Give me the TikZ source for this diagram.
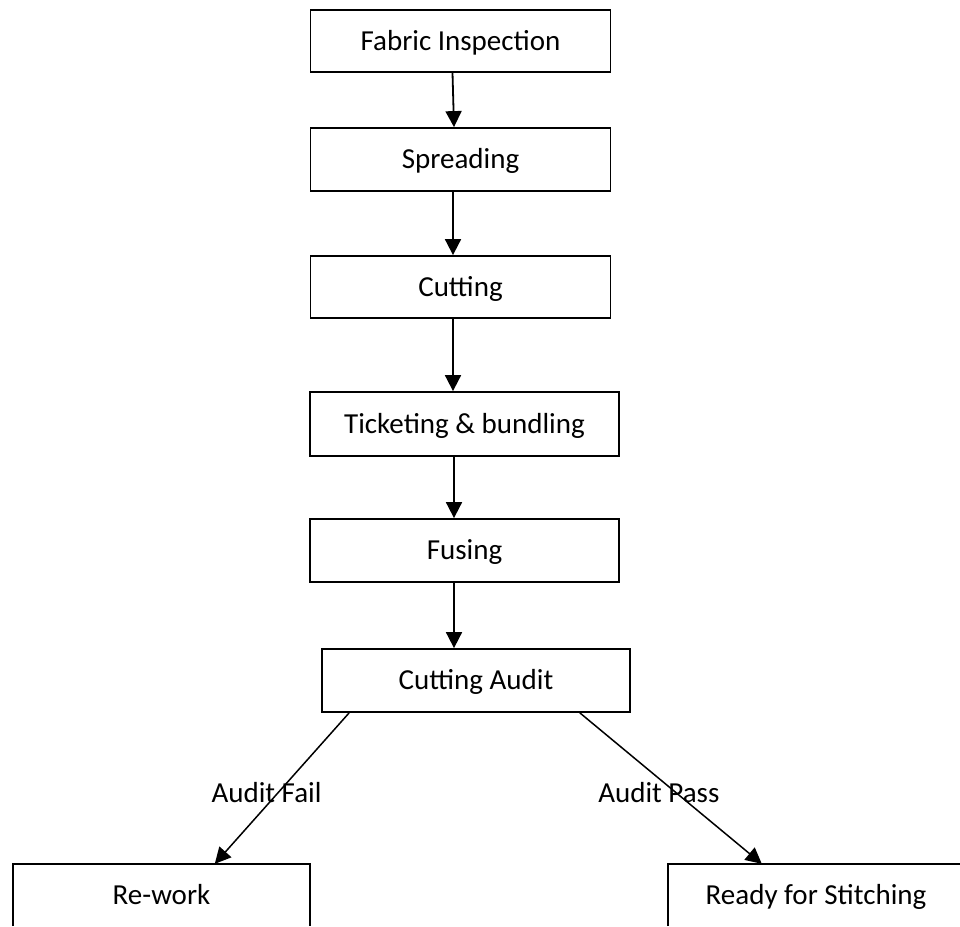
\documentclass[tikz,border=0pt]{standalone}
\usepackage{fontspec}
\setmainfont{Carlito}
\usetikzlibrary{arrows.meta}

\tikzset{
  label font/.style={font=\fontsize{29}{34}\selectfont, text height=18.7pt, text depth=0pt},
  stage/.style={draw=black, line width=1.8pt, inner sep=0pt, label font},
  endbox/.style={draw=none, inner sep=0pt, label font},
  outline/.style={draw=black, line width=1.8pt},
  flow/.style={draw=black, line width=1.8pt, -{Triangle[length=16pt,width=16pt]}},
  branch/.style={draw=black, line width=1.5pt, -{Triangle[length=16pt,width=16pt]}},
  tag/.style={inner sep=0pt, label font}
}

\begin{document}
\begin{tikzpicture}[x=1pt,y=-1pt]
  \useasboundingbox (0,0) rectangle (960,926);

  % main column of process stages
  \node[stage, minimum width=300pt, minimum height=62pt] (fab)  at (460.5,41)    {Fabric Inspection};
  \node[stage, minimum width=300pt, minimum height=63pt] (spr)  at (460.5,159.5) {Spreading};
  \node[stage, minimum width=300pt, minimum height=62pt] (cut)  at (460.5,287)   {Cutting};
  \node[stage, minimum width=309pt, minimum height=64pt] (tick) at (464.5,424)   {Ticketing \& bundling};
  \node[stage, minimum width=309pt, minimum height=63pt] (fus)  at (464.5,550.5) {Fusing};
  \node[stage, minimum width=308pt, minimum height=63pt] (aud)  at (476,680.5)   {Cutting Audit};

  % outcome boxes, open at the lower edge
  \node[endbox, minimum width=297pt, minimum height=62pt] (rw) at (161.5,895) {Re-work};
  \node[endbox, minimum width=296pt, minimum height=62pt] (rs) at (816,895)   {Ready for Stitching};
  \draw[outline] (rw.south west) -- (rw.north west) -- (rw.north east) -- (rw.south east);
  \draw[outline] (rs.south west) -- (rs.north west) -- (rs.north east) -- (rs.south east);

  % vertical flow
  \draw[flow] ([xshift=-8pt]fab.south) -- ([xshift=-6.5pt]spr.north);
  \draw[flow] ([xshift=-7.5pt]spr.south) -- ([xshift=-7.5pt]cut.north);
  \draw[flow] ([xshift=-7.5pt]cut.south) -- ([xshift=-11.5pt]tick.north);
  \draw[flow] ([xshift=-10.5pt]tick.south) -- ([xshift=-10.5pt]fus.north);
  \draw[flow] ([xshift=-10.5pt]fus.south) -- ([xshift=-22pt]aud.north);

  % audit outcomes
  \draw[branch] ([xshift=28pt]aud.south west) -- ([xshift=202pt]rw.north west)
    node[tag, pos=0.533, xshift=-11pt] (failtag) {Audit Fail};
  \draw[branch] ([xshift=-51pt]aud.south east) -- ([xshift=94pt]rs.north west)
    node[tag, pos=0.533, xshift=-18pt] (passtag) {Audit Pass};
\end{tikzpicture}
\end{document}
